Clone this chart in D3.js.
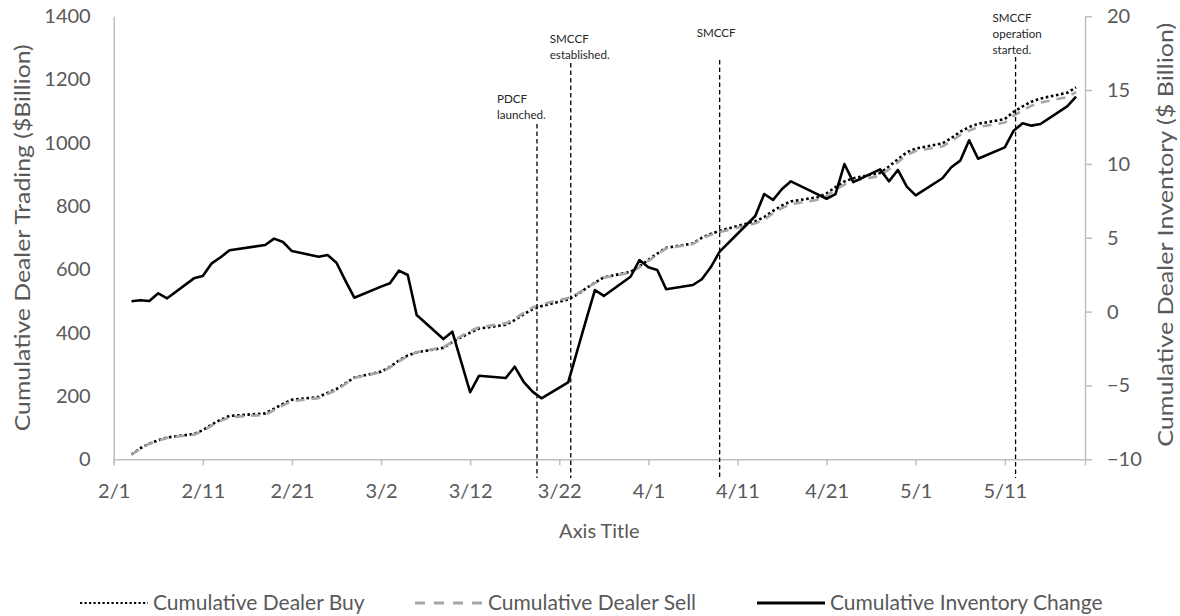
<!DOCTYPE html>
<html><head><meta charset="utf-8">
<script src="https://cdn.jsdelivr.net/npm/d3@7/dist/d3.min.js"></script>
<style>
body{margin:0;background:#fff}
text{font-family:Lato,'Open Sans',sans-serif}
</style>
</head><body><svg id="c" width="1180" height="616"></svg>
<script>
// ---------------- data ----------------
const dates = ["2/3","2/4","2/5","2/6","2/7","2/10","2/11","2/12","2/13","2/14","2/18","2/19","2/20","2/21","2/24","2/25","2/26","2/27","2/28",
"3/2","3/3","3/4","3/5","3/6","3/9","3/10","3/11","3/12","3/13","3/16","3/17","3/18","3/19","3/20","3/23","3/24","3/25","3/26","3/27","3/30","3/31",
"4/1","4/2","4/3","4/6","4/7","4/8","4/9","4/13","4/14","4/15","4/16","4/17","4/20","4/21","4/22","4/23","4/24","4/27","4/28","4/29","4/30",
"5/1","5/4","5/5","5/6","5/7","5/8","5/11","5/12","5/13","5/14","5/15","5/18","5/19"];

const buy = [15,35,50,60,69,80,92,110,125,137,145,160,175,188,197,210,222,240,258,
277,292,312,328,338,352,370,386,400,413,425,440,458,474,484,505,520,540,558,575,592,610,
630,650,668,682,700,712,722,752,765,785,802,815,828,840,860,878,888,905,925,948,970,
982,998,1015,1035,1050,1060,1075,1098,1115,1130,1140,1158,1175];

const sell = [14.3,34.2,49.3,58.8,68.1,77.7,89.6,106.7,121.3,132.8,140.5,155.1,170.3,183.9,193.3,206.2,218.7,237.9,257.1,
275.3,290.1,309.2,325.5,338.2,353.9,371.4,389.4,405.5,417.3,429.5,443.7,462.8,479.4,489.9,509.8,522.7,540.6,556.5,573.9,589.6,606.5,
627,647.2,666.5,680.2,697.8,709,717.9,745.5,757,777.4,793.7,806.2,820,832.4,852,868,879.2,895.4,916.2,938.4,961.5,
974.1,989,1005.2,1024.8,1038.4,1049.6,1063.9,1085.7,1102.2,1117.4,1127.3,1144.1,1160.5];

const inventory = [0.7,0.77,0.72,1.24,0.9,2.25,2.41,3.27,3.68,4.15,4.51,4.94,4.71,4.1,3.72,3.83,3.31,2.1,0.94,
1.69,1.92,2.77,2.48,-0.23,-1.86,-1.36,-3.4,-5.46,-4.34,-4.5,-3.73,-4.75,-5.42,-5.87,-4.79,-2.7,-0.6,1.46,1.06,2.36,3.49,
3.0,2.82,1.51,1.8,2.19,3.0,4.06,6.47,7.96,7.56,8.3,8.82,7.94,7.64,7.96,9.99,8.77,9.63,8.82,9.59,8.46,
7.87,9.03,9.77,10.22,11.6,10.35,11.12,12.25,12.75,12.59,12.7,13.9,14.55];

const xTickLabels = ["2/1","2/11","2/21","3/2","3/12","3/22","4/1","4/11","4/21","5/1","5/11"];
const xDomain = ["2/1","5/20"];
const leftTicks = [0,200,400,600,800,1000,1200,1400];
const rightTicks = [-10,-5,0,5,10,15,20];
const eventDates = ["2020-03-19T12:00","2020-03-23T07:00","2020-04-09T00:00","2020-05-12T05:00"];
const eventLabels = [["PDCF","launched."],["SMCCF","established."],["SMCCF"],["SMCCF","operation","started."]];
const seriesNames = ["Cumulative Dealer Buy","Cumulative Dealer Sell","Cumulative Inventory Change"];
const leftTitle = "Cumulative Dealer Trading ($Billion)";
const rightTitle = "Cumulative Dealer Inventory ($ Billion)";
const xTitle = "Axis Title";

// ---------------- drawing ----------------
const parse = s => d3.timeParse("%m/%d/%Y")(s + "/2020");
const svg = d3.select("#c");
const L = 113.7, R = 1085, T = 16.2, B = 459.3;
const axisCol = "#BFBFBF", txtCol = "#595959";

const x = d3.scaleTime().domain(xDomain.map(parse)).range([L, R]);
const yL = d3.scaleLinear().domain([0, 1400]).range([B, T]);
const yR = d3.scaleLinear().domain([-10, 20]).range([B, T]);

const pts = dates.map(parse);

// axes
const gx = svg.append("g").attr("transform", `translate(0,${B})`)
  .call(d3.axisBottom(x).tickValues(xTickLabels.map(parse)).tickFormat(d3.timeFormat("%-m/%-d")).tickSizeOuter(0).tickSize(6));
const gl = svg.append("g").attr("transform", `translate(${L},0)`)
  .call(d3.axisLeft(yL).tickValues(leftTicks).tickFormat(d3.format("d")).tickSize(0).tickSizeOuter(0).tickPadding(23));
const gr = svg.append("g").attr("transform", `translate(${R},0)`)
  .call(d3.axisRight(yR).tickValues(rightTicks).tickFormat(d3.format("d")).tickSize(7).tickSizeOuter(0).tickPadding(15));
[gx, gl, gr].forEach(g => {
  g.select(".domain").attr("stroke", axisCol).attr("stroke-width", 1.5);
  g.selectAll(".tick line").attr("stroke", axisCol).attr("stroke-width", 1.5);
  g.selectAll(".tick text").attr("fill", txtCol).attr("font-size", 20).attr("font-family", "Lato");
});
gx.selectAll(".tick text").attr("dy", "0.32em").attr("y", 32);

// axis titles
svg.append("text").attr("transform", `translate(22,${(T + B) / 2}) rotate(-90)`)
  .attr("text-anchor", "middle").attr("dy", "0.35em").attr("fill", txtCol).attr("font-size", 22)
  .attr("textLength", 387).attr("lengthAdjust", "spacingAndGlyphs").text(leftTitle);
svg.append("text").attr("transform", `translate(1165,${(T + B) / 2 - 3}) rotate(-90)`)
  .attr("text-anchor", "middle").attr("dy", "0.35em").attr("fill", txtCol).attr("font-size", 22)
  .attr("textLength", 424).attr("lengthAdjust", "spacingAndGlyphs").text(rightTitle);
svg.append("text").attr("x", (L + R) / 2).attr("y", 531).attr("dy", "0.35em")
  .attr("text-anchor", "middle").attr("fill", txtCol).attr("font-size", 20).text(xTitle);

// series
const styles = [
  {stroke: "#000", width: 2.6, dash: "2.6,2.6"},
  {stroke: "#A6A6A6", width: 2.6, dash: "9,7"},
  {stroke: "#000", width: 2.6, dash: null}
];
const lineL = d3.line().x((d, i) => x(pts[i])).y(d => yL(d));
const lineR = d3.line().x((d, i) => x(pts[i])).y(d => yR(d));
const series = [[buy, lineL], [sell, lineL], [inventory, lineR]];
series.forEach(([vals, gen], k) => {
  svg.append("path").attr("d", gen(vals)).attr("fill", "none")
    .attr("stroke", styles[k].stroke).attr("stroke-width", styles[k].width)
    .attr("stroke-dasharray", styles[k].dash).attr("stroke-linejoin", "round");
});

// event markers
const evLayout = [
  {dx: -40, ty: 99, top: 124},
  {dx: -21, ty: 39, top: 63},
  {dx: -23, ty: 33, top: 60},
  {dx: -23, ty: 18, top: 57}
];
eventDates.forEach((ds, i) => {
  const ex = x(new Date(ds));
  const lay = evLayout[i];
  svg.append("line").attr("x1", ex).attr("x2", ex).attr("y1", lay.top).attr("y2", 478)
    .attr("stroke", "#000").attr("stroke-width", 1.3).attr("stroke-dasharray", "4.5,3");
  const t = svg.append("text").attr("font-size", 11.6).attr("fill", "#262626");
  eventLabels[i].forEach((ln, j) => {
    t.append("tspan").attr("x", ex + lay.dx).attr("y", lay.ty + j * 16).attr("dy", "0.35em").text(ln);
  });
});

// legend
const legX = [80, 415, 757];
const legY = 603;
seriesNames.forEach((n, k) => {
  svg.append("line").attr("x1", legX[k]).attr("x2", legX[k] + 68).attr("y1", legY).attr("y2", legY)
    .attr("stroke", styles[k].stroke).attr("stroke-width", k === 0 ? 2.2 : 3)
    .attr("stroke-dasharray", k === 0 ? "2.2,2.3" : (k === 1 ? "10,9" : null));
  svg.append("text").attr("x", legX[k] + 73).attr("y", legY).attr("dy", "0.35em")
    .attr("font-size", 21).attr("fill", txtCol).text(n);
});
</script>
</body></html>
